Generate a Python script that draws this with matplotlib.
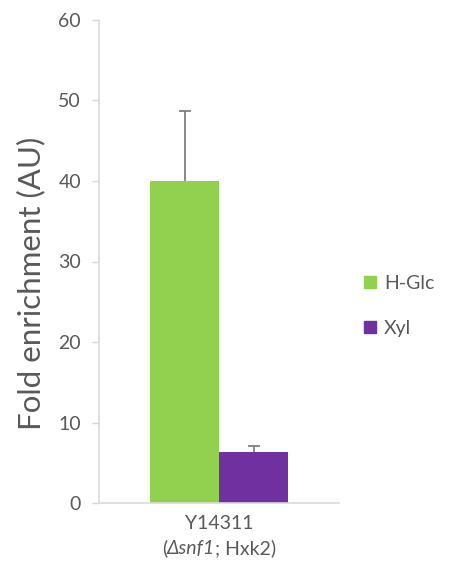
import matplotlib
matplotlib.use("Agg")
import matplotlib.pyplot as plt
from matplotlib.patches import Patch
from matplotlib.offsetbox import TextArea, HPacker, VPacker, AnchoredOffsetbox

plt.rcParams['font.family'] = ['Lato', 'DejaVu Sans']

# Data
category_names = ["Y14311"]
category_notes = [("\u0394snf1", "; Hxk2)")]
series_names = ["H-Glc", "Xyl"]
series_values = [[40.0], [6.35]]
series_errors = [[8.7], [0.7]]
series_colors = ["#92d050", "#7030a0"]

yticks = [0, 10, 20, 30, 40, 50, 60]

W, H = 456, 567
fig = plt.figure(figsize=(W / 100, H / 100), dpi=100)
ax = fig.add_axes([99 / W, (H - 503) / H, 240 / W, 483 / H])

bar_w = 0.2875
text_col = "#595959"
for i, (name, vals, errs, col) in enumerate(zip(series_names, series_values,
                                                 series_errors, series_colors)):
    xs = [c + (i - 0.5) * bar_w for c in range(len(category_names))]
    ax.bar(xs, vals, width=bar_w, color=col, label=name, zorder=2)
    # symmetric bars drawn beneath the fill so only the upper half shows
    ax.errorbar(xs, vals, yerr=errs, fmt='none',
                ecolor="#7f7f7f", elinewidth=1.3, capsize=4.3, capthick=1.3,
                zorder=1)

ax.set_xlim(-0.5, 0.5)
ax.set_ylim(0, 60)
ax.set_yticks(yticks)
ax.set_xticks([])
ax.tick_params(axis='y', length=5, width=1, color="#d9d9d9",
               labelsize=14, labelcolor=text_col, pad=8)

for s in ["top", "right"]:
    ax.spines[s].set_visible(False)
for s in ["left", "bottom"]:
    ax.spines[s].set_color("#d9d9d9")
    ax.spines[s].set_linewidth(1.2)

ax.set_ylabel("Fold enrichment (AU)", fontsize=22.5, color=text_col)
ax.yaxis.set_label_coords(-0.225, 0.455)

# two-line category label with italic genotype part
for c, (nm, (it_part, rest)) in enumerate(zip(category_names, category_notes)):
    fs = 14
    line1 = TextArea(nm, textprops=dict(fontsize=fs, color=text_col))
    line2 = HPacker(children=[
        TextArea("(", textprops=dict(fontsize=fs, color=text_col)),
        TextArea(it_part, textprops=dict(fontsize=fs, color=text_col,
                                         style="italic")),
        TextArea(rest, textprops=dict(fontsize=fs, color=text_col)),
    ], align="baseline", pad=0, sep=0)
    box = VPacker(children=[line1, line2], align="center", pad=0, sep=5)
    anchored = AnchoredOffsetbox(loc="upper center", child=box, pad=0,
                                 frameon=False,
                                 bbox_to_anchor=(c, -0.025),
                                 bbox_transform=ax.get_xaxis_transform(),
                                 borderpad=0)
    ax.add_artist(anchored)

handles = [Patch(facecolor=col, edgecolor=col) for col in series_colors]
fig.legend(handles, series_names, loc="center left",
           bbox_to_anchor=(347 / W, 1 - 306 / H), frameon=False,
           fontsize=14, labelcolor=text_col, handlelength=0.6,
           handleheight=0.6, handletextpad=0.4, labelspacing=1.45)

fig.savefig("out.png", dpi=100)
